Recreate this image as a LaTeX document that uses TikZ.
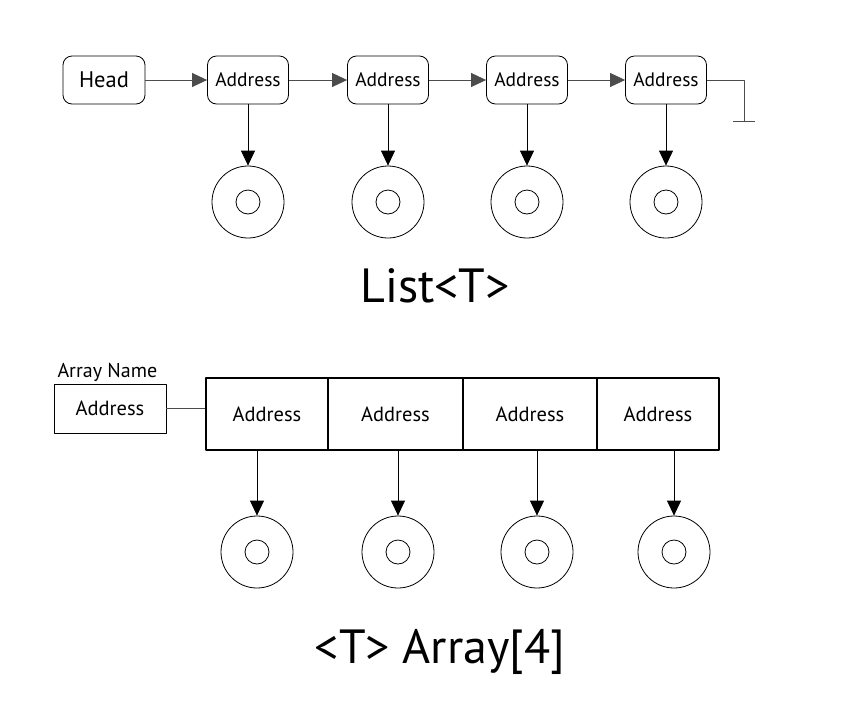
\documentclass[tikz,border=0pt]{standalone}
\usepackage{fontspec}
\setmainfont{PT Sans}
\usetikzlibrary{arrows.meta,positioning}
\tikzset{
	cell/.style={draw, line width=0.8pt, rounded corners=9pt, minimum width=81pt, minimum height=48pt, inner sep=0pt, font=\fontsize{19.5}{19.5}\selectfont},
	slot/.style={draw, line width=1.3pt, minimum height=72pt, inner sep=0pt, font=\fontsize{20.5}{20.5}\selectfont},
	item/.style={draw, line width=0.8pt, circle, minimum size=72pt, inner sep=0pt},
	core/.style={draw, line width=0.8pt, circle, minimum size=24pt, inner sep=0pt},
	link/.style={line width=0.8pt, -{Triangle[length=15pt,width=14pt]}},
	title/.style={anchor=base, font=\fontsize{48}{48}\selectfont},
}
\begin{document}
\begin{tikzpicture}[x=1pt, y=-1pt, line join=round]
		\useasboundingbox (0,0) rectangle (860,716);
		% List<T>
		\node[cell, minimum width=82pt, font=\fontsize{22.5}{22.5}\selectfont] (head) at (104,80) {Head};
		\foreach \i/\x in {1/248,2/388,3/527,4/666}{
			\node[cell] (a\i) at (\x,80) {Address};
			\node[item] (o\i) at (\x,202) {};
			\node[core] (c\i) at (\x,202) {};
			\draw[link] (a\i) -- (o\i);
		}
		\draw[link, draw=black!70] (head) -- (a1);
		\foreach \i/\j in {1/2,2/3,3/4} \draw[link, draw=black!70] (a\i) -- (a\j);
		\coordinate (nil) at (744,121);
		\draw[line width=0.8pt, black!70] (a4.east) -| (nil);
		\draw[line width=0.8pt, black!70] ([xshift=-11pt]nil) -- ([xshift=11pt]nil);
		\node[title] (ltitle) at (435,302) {List<T>};
		% <T> Array[4]
		\node[anchor=base west, font=\fontsize{20}{20}\selectfont] (aname) at (54,377) {Array Name};
		\node[draw, line width=0.8pt, minimum width=112pt, minimum height=49pt, inner sep=0pt, font=\fontsize{20.5}{20.5}\selectfont] (ptr) at (110,408.5) {Address};
		\foreach \i/\x/\w/\cx in {1/267/122/257,2/395.5/135/398,3/530/134/537,4/658/122/674}{
			\node[slot, minimum width=\w pt] (s\i) at (\x,414) {Address};
			\node[item] (p\i) at (\cx,552) {};
			\node[core] (q\i) at (\cx,552) {};
			\draw[link] (s\i.south -| p\i) -- (p\i);
		}
		\draw[line width=0.8pt, black!70] (ptr.east) -- (ptr.east -| s1.west);
		\node[title] (atitle) at (440,663) {<T> Array[4]};
	\end{tikzpicture}
\end{document}
